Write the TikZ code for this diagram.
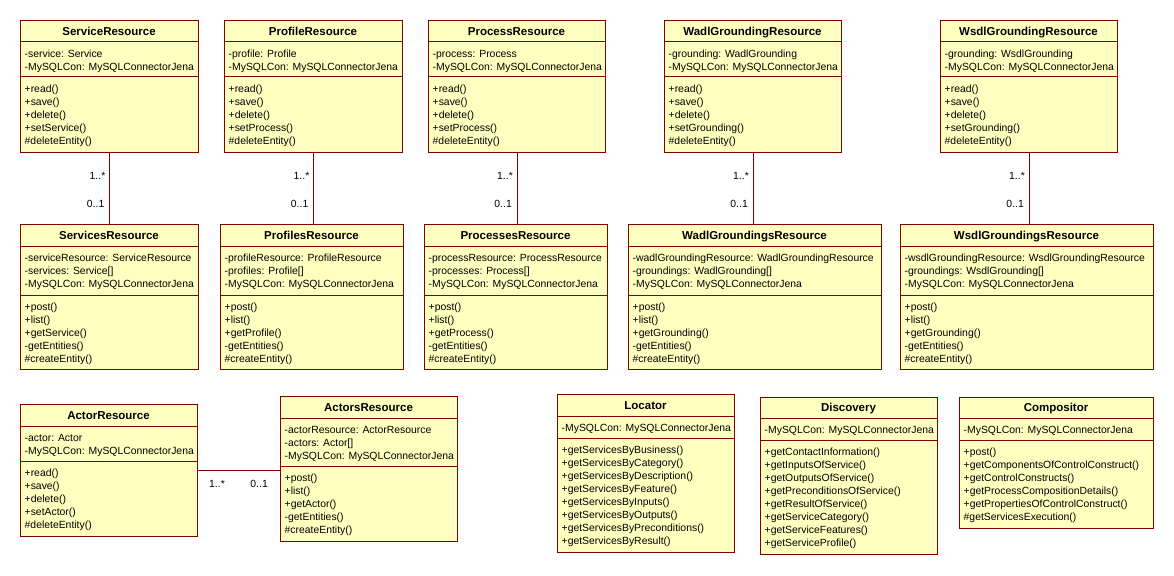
\documentclass[tikz,border=0pt]{standalone}
\usepackage{fontspec}
\setmainfont{Liberation Sans}
\usetikzlibrary{calc}
\definecolor{umlfill}{RGB}{255,255,192}
\definecolor{umlline}{RGB}{128,0,0}
\tikzset{
  classbox/.style={draw=umlline, fill=umlfill, line width=1pt, inner sep=0pt, anchor=north west},
  sepline/.style={draw=umlline, line width=1pt},
  titletext/.style={font=\bfseries\fontsize{11.5}{13}\selectfont, inner sep=0pt, text height=8.3pt, text depth=0pt},
  comptext/.style={anchor=north west, inner sep=0pt, align=left, font=\fontsize{10.4}{13}\selectfont},
  assoc/.style={draw=umlline, line width=1pt},
  mult/.style={inner sep=0pt, font=\fontsize{10.4}{13}\selectfont},
}
\newcommand\umlbox[8]{%
  \node[classbox, minimum width={#3-#2}, minimum height={#7-#4}] (#1) at (#2,#4) {};
  \draw[sepline] (#2,#5) -- (#3,#5);
  \draw[sepline] (#2,#6) -- (#3,#6);
  \node[titletext] (#1-title) at ({(#2+#3)/2},{(#4+#5)/2}) {#8};
}
\newcommand\umlcomp[4]{\node[comptext] (#1) at ({#2+4.5},{#3+7}) {\rule{0pt}{8pt}#4};}
\begin{document}
\begin{tikzpicture}[x=1pt,y=-1pt]
\fill[white] (0,0) rectangle (1174,575);
\useasboundingbox (0,0) rectangle (1174,575);

% ---- top row
\umlbox{sr}{20}{198}{20}{42}{77}{152}{ServiceResource}
\umlcomp{sr-a}{20}{42}{-service: Service\\-MySQLCon: MySQLConnectorJena}
\umlcomp{sr-m}{20}{77}{+read()\\+save()\\+delete()\\+setService()\\\#deleteEntity()}

\umlbox{pr}{224}{402}{20}{42}{77}{152}{ProfileResource}
\umlcomp{pr-a}{224}{42}{-profile: Profile\\-MySQLCon: MySQLConnectorJena}
\umlcomp{pr-m}{224}{77}{+read()\\+save()\\+delete()\\+setProcess()\\\#deleteEntity()}

\umlbox{pcr}{428}{605}{20}{42}{77}{152}{ProcessResource}
\umlcomp{pcr-a}{428}{42}{-process: Process\\-MySQLCon: MySQLConnectorJena}
\umlcomp{pcr-m}{428}{77}{+read()\\+save()\\+delete()\\+setProcess()\\\#deleteEntity()}

\umlbox{wr}{664}{841}{20}{42}{77}{152}{WadlGroundingResource}
\umlcomp{wr-a}{664}{42}{-grounding: WadlGrounding\\-MySQLCon: MySQLConnectorJena}
\umlcomp{wr-m}{664}{77}{+read()\\+save()\\+delete()\\+setGrounding()\\\#deleteEntity()}

\umlbox{wsr}{940}{1117}{20}{42}{77}{152}{WsdlGroundingResource}
\umlcomp{wsr-a}{940}{42}{-grounding: WsdlGrounding\\-MySQLCon: MySQLConnectorJena}
\umlcomp{wsr-m}{940}{77}{+read()\\+save()\\+delete()\\+setGrounding()\\\#deleteEntity()}

% ---- second row
\umlbox{ssr}{20}{198}{224}{246}{295}{369}{ServicesResource}
\umlcomp{ssr-a}{20}{246}{-serviceResource: ServiceResource\\-services: Service[]\\-MySQLCon: MySQLConnectorJena}
\umlcomp{ssr-m}{20}{295}{+post()\\+list()\\+getService()\\-getEntities()\\\#createEntity()}

\umlbox{psr}{220}{403}{224}{246}{295}{369}{ProfilesResource}
\umlcomp{psr-a}{220}{246}{-profileResource: ProfileResource\\-profiles: Profile[]\\-MySQLCon: MySQLConnectorJena}
\umlcomp{psr-m}{220}{295}{+post()\\+list()\\+getProfile()\\-getEntities()\\\#createEntity()}

\umlbox{pcsr}{424}{607}{224}{246}{295}{369}{ProcessesResource}
\umlcomp{pcsr-a}{424}{246}{-processResource: ProcessResource\\-processes: Process[]\\-MySQLCon: MySQLConnectorJena}
\umlcomp{pcsr-m}{424}{295}{+post()\\+list()\\+getProcess()\\-getEntities()\\\#createEntity()}

\umlbox{wgs}{628}{881}{224}{246}{295}{369}{WadlGroundingsResource}
\umlcomp{wgs-a}{628}{246}{-wadlGroundingResource: WadlGroundingResource\\-groundings: WadlGrounding[]\\-MySQLCon: MySQLConnectorJena}
\umlcomp{wgs-m}{628}{295}{+post()\\+list()\\+getGrounding()\\-getEntities()\\\#createEntity()}

\umlbox{wsgs}{900}{1153}{224}{246}{295}{369}{WsdlGroundingsResource}
\umlcomp{wsgs-a}{900}{246}{-wsdlGroundingResource: WsdlGroundingResource\\-groundings: WsdlGrounding[]\\-MySQLCon: MySQLConnectorJena}
\umlcomp{wsgs-m}{900}{295}{+post()\\+list()\\+getGrounding()\\-getEntities()\\\#createEntity()}

% ---- bottom row
\umlbox{ar}{20}{197}{404}{426}{461}{536}{ActorResource}
\umlcomp{ar-a}{20}{426}{-actor: Actor\\-MySQLCon: MySQLConnectorJena}
\umlcomp{ar-m}{20}{461}{+read()\\+save()\\+delete()\\+setActor()\\\#deleteEntity()}

\umlbox{asr}{280}{457}{396}{418}{466}{541}{ActorsResource}
\umlcomp{asr-a}{280}{418}{-actorResource: ActorResource\\-actors: Actor[]\\-MySQLCon: MySQLConnectorJena}
\umlcomp{asr-m}{280}{466}{+post()\\+list()\\+getActor()\\-getEntities()\\\#createEntity()}

\umlbox{loc}{557}{734}{394}{416}{438}{552}{Locator}
\umlcomp{loc-a}{557}{416}{-MySQLCon: MySQLConnectorJena}
\umlcomp{loc-m}{557}{438}{+getServicesByBusiness()\\+getServicesByCategory()\\+getServicesByDescription()\\+getServicesByFeature()\\+getServicesByInputs()\\+getServicesByOutputs()\\+getServicesByPreconditions()\\+getServicesByResult()}

\umlbox{dis}{760}{937}{397}{418}{440}{554}{Discovery}
\umlcomp{dis-a}{760}{418}{-MySQLCon: MySQLConnectorJena}
\umlcomp{dis-m}{760}{440}{+getContactInformation()\\+getInputsOfService()\\+getOutputsOfService()\\+getPreconditionsOfService()\\+getResultOfService()\\+getServiceCategory()\\+getServiceFeatures()\\+getServiceProfile()}

\umlbox{com}{959}{1153}{397}{418}{440}{528}{Compositor}
\umlcomp{com-a}{959}{418}{-MySQLCon: MySQLConnectorJena}
\umlcomp{com-m}{959}{440}{+post()\\+getComponentsOfControlConstruct()\\+getControlConstructs()\\+getProcessCompositionDetails()\\+getPropertiesOfControlConstruct()\\\#getServicesExecution()}

% ---- associations
\foreach \a/\b in {sr/ssr, pr/psr, pcr/pcsr, wr/wgs, wsr/wsgs}{
  \draw[assoc] (\a.south) -- (\a.south |- \b.north);
  \node[mult, anchor=east] (\a-m1) at ($(\a.south)+(-4,23)$) {1..*};
  \node[mult, anchor=east] (\a-m2) at ($(\a.south |- \b.north)+(-5,-20)$) {0..1};
}
\draw[assoc] (ar.east) -- (ar.east -| asr.west);
\node[mult, anchor=west] (ar-m1) at ($(ar.east)+(11,13)$) {1..*};
\node[mult, anchor=east] (ar-m2) at ($(ar.east -| asr.west)+(-12,13)$) {0..1};
\end{tikzpicture}
\end{document}
